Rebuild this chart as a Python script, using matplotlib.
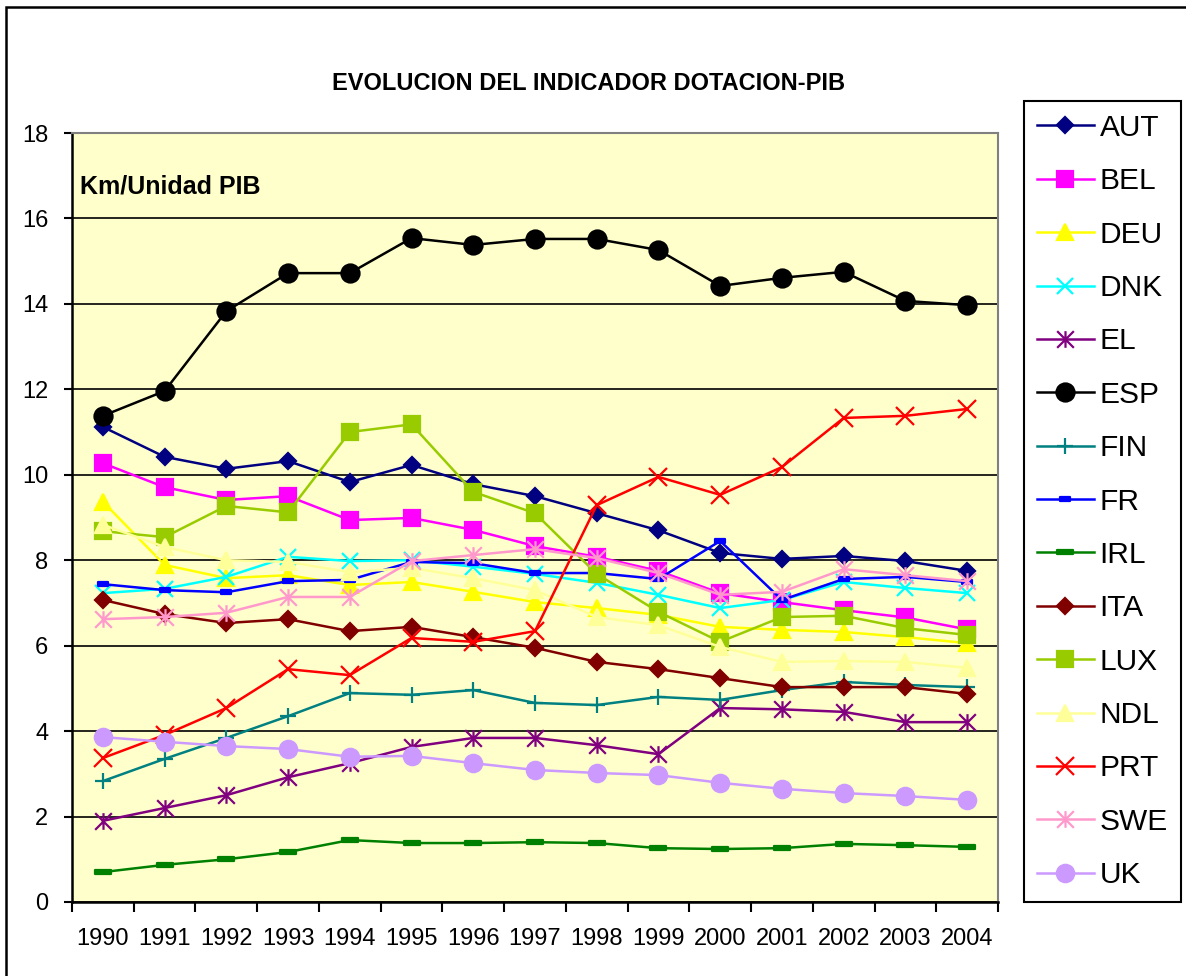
import numpy as np
import matplotlib
matplotlib.use("Agg")
from matplotlib import pyplot as plt
from matplotlib.path import Path
from matplotlib.patches import Rectangle

plt.rcParams['font.family'] = ['Liberation Sans', 'DejaVu Sans']

years = ["1990", "1991", "1992", "1993", "1994", "1995", "1996", "1997",
         "1998", "1999", "2000", "2001", "2002", "2003", "2004"]

aut = [11.12, 10.42, 10.14, 10.32, 9.83, 10.23, 9.78, 9.50, 9.10, 8.70, 8.17, 8.03, 8.10, 7.98, 7.75]
bel = [10.27, 9.71, 9.41, 9.50, 8.94, 8.99, 8.71, 8.33, 8.08, 7.75, 7.23, 7.02, 6.83, 6.66, 6.38]
deu = [9.37, 7.89, 7.58, 7.65, 7.42, 7.49, 7.26, 7.02, 6.88, 6.72, 6.44, 6.37, 6.32, 6.20, 6.06]
dnk = [7.23, 7.33, 7.61, 8.08, 7.98, 8.00, 7.85, 7.68, 7.47, 7.19, 6.88, 7.07, 7.49, 7.35, 7.23]
el = [1.90, 2.20, 2.50, 2.92, 3.25, 3.63, 3.84, 3.84, 3.67, 3.46, 4.54, 4.51, 4.45, 4.21, 4.21]
esp = [11.38, 11.96, 13.83, 14.72, 14.72, 15.54, 15.38, 15.52, 15.52, 15.26, 14.42, 14.61, 14.75, 14.07, 13.97]
fin = [2.83, 3.35, 3.84, 4.35, 4.89, 4.85, 4.96, 4.66, 4.61, 4.80, 4.73, 4.96, 5.15, 5.08, 5.03]
fr = [7.44, 7.30, 7.25, 7.51, 7.54, 7.96, 7.93, 7.70, 7.70, 7.56, 8.45, 7.07, 7.56, 7.61, 7.49]
irl = [0.70, 0.87, 1.00, 1.17, 1.45, 1.38, 1.38, 1.40, 1.38, 1.26, 1.24, 1.26, 1.36, 1.33, 1.29]
ita = [7.07, 6.74, 6.53, 6.62, 6.34, 6.44, 6.20, 5.95, 5.62, 5.45, 5.24, 5.03, 5.03, 5.03, 4.87]
lux = [8.68, 8.54, 9.27, 9.12, 11.00, 11.18, 9.60, 9.10, 7.68, 6.79, 6.09, 6.67, 6.70, 6.41, 6.25]
ndl = [8.83, 8.31, 8.00, 7.96, 7.72, 7.82, 7.58, 7.30, 6.67, 6.48, 5.97, 5.62, 5.64, 5.62, 5.48]
prt = [3.37, 3.91, 4.54, 5.45, 5.31, 6.18, 6.09, 6.34, 9.29, 9.95, 9.53, 10.18, 11.33, 11.38, 11.54]
swe = [6.62, 6.67, 6.77, 7.14, 7.14, 7.98, 8.12, 8.26, 8.05, 7.70, 7.19, 7.26, 7.79, 7.65, 7.51]
uk = [3.86, 3.75, 3.65, 3.58, 3.40, 3.42, 3.25, 3.09, 3.02, 2.97, 2.79, 2.65, 2.55, 2.48, 2.39]

# excel style marker shapes
star = Path([(0, -1), (0, 1), (-1, -1), (1, 1), (-1, 1), (1, -1)],
            [Path.MOVETO, Path.LINETO] * 3)
dash_fr = Path([(-1, -0.35), (1, -0.35), (1, 0.35), (-1, 0.35), (-1, -0.35)], closed=True)
dash_irl = Path([(-1, -0.28), (1, -0.28), (1, 0.28), (-1, 0.28), (-1, -0.28)], closed=True)

# name, values, colour, marker, size, filled
series = [
    ("AUT", aut, "#000080", "D", 7.8, True),
    ("BEL", bel, "#FF00FF", "s", 11.5, True),
    ("DEU", deu, "#FFFF00", "^", 12, True),
    ("DNK", dnk, "#00FFFF", "x", 11.5, False),
    ("EL", el, "#800080", star, 12, False),
    ("ESP", esp, "#000000", "o", 13, True),
    ("FIN", fin, "#008080", "+", 12, False),
    ("FR", fr, "#0000FF", dash_fr, 7.5, True),
    ("IRL", irl, "#008000", dash_irl, 12, True),
    ("ITA", ita, "#800000", "D", 7.8, True),
    ("LUX", lux, "#99CC00", "s", 11.5, True),
    ("NDL", ndl, "#FFFF99", "^", 12, True),
    ("PRT", prt, "#FF0000", "x", 12.5, False),
    ("SWE", swe, "#FF99CC", star, 12, False),
    ("UK", uk, "#CC99FF", "o", 12.5, True),
]

W, H = 1186, 976
fig = plt.figure(figsize=(W / 100, H / 100), dpi=100)
fig.patch.set_facecolor("white")

ax = fig.add_axes([72 / W, 1 - 902 / H, (998 - 72) / W, (902 - 133) / H])
ax.set_facecolor("#FFFFCC")

x = np.arange(len(years))
for name, vals, col, mk, ms, filled in series:
    ax.plot(x, vals, color=col, lw=1.8, marker=mk, ms=ms,
            mfc=col if filled else "none", mec=col, mew=1.6, label=name,
            clip_on=False)

ax.set_ylim(0, 18)
ax.set_yticks(np.arange(0, 19, 2))
ax.yaxis.grid(True, color="black", lw=1.2)
ax.set_axisbelow(True)

ax.set_xlim(-0.5, len(years) - 0.5)
ax.set_xticks(np.arange(-0.5, len(years), 1.0))
ax.set_xticklabels([])
ax.set_xticks(x, minor=True)
ax.set_xticklabels(years, minor=True)
ax.tick_params(axis="x", which="minor", length=0, pad=19, labelsize=17)
ax.tick_params(axis="x", which="major", length=7, width=1.5, direction="out")
ax.tick_params(axis="y", length=6, width=1.5, direction="out", pad=11, labelsize=17)

for s in ("left", "bottom"):
    ax.spines[s].set_color("black")
    ax.spines[s].set_linewidth(1.8)
for s in ("top", "right"):
    ax.spines[s].set_color("#808080")
    ax.spines[s].set_linewidth(1.5)

ax.text(8 / 926, 1 - 53 / 769, "Km/Unidad PIB", transform=ax.transAxes,
        fontsize=18, fontweight="bold", ha="left", va="center")

fig.text(589 / W, 1 - 83 / H, "EVOLUCION DEL INDICADOR DOTACION-PIB",
         fontsize=17, fontweight="bold", ha="center", va="center")

leg = fig.legend(loc="upper left", bbox_to_anchor=(1024 / W, 1 - 101 / H),
                 borderaxespad=0, fontsize=21.5, fancybox=False, framealpha=1,
                 edgecolor="black", labelspacing=0.85, handlelength=1.9,
                 handletextpad=0.2, borderpad=0.43)
leg.get_frame().set_linewidth(1.5)

# outer chart border
fig.patches.append(Rectangle((6 / W, -0.1), 1.2, 1.1 - 7 / H, fill=False,
                             edgecolor="black", lw=1.8, transform=fig.transFigure))

fig.savefig("out.png", dpi=100)
